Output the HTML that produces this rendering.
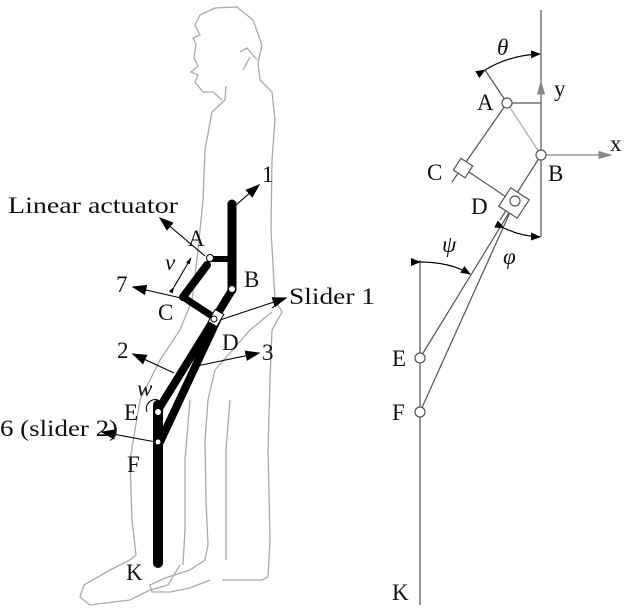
<!DOCTYPE html>
<html><head><style>body{margin:0;background:#fff}svg{display:block}text{font-family:"Liberation Serif",serif;font-size:23px;fill:#111}</style></head>
<body>
<svg width="628" height="612" viewBox="0 0 628 612" xmlns="http://www.w3.org/2000/svg">
<defs>
<marker id="ah" viewBox="0 0 10 10" refX="9" refY="5" markerWidth="10" markerHeight="10" markerUnits="userSpaceOnUse" orient="auto"><path d="M0,1 L10,5 L0,9 z" fill="#000"/></marker>
<marker id="ab" viewBox="0 0 10 10" refX="9" refY="5" markerWidth="15" markerHeight="15" markerUnits="userSpaceOnUse" orient="auto"><path d="M0,1.5 L10,5 L0,8.5 z" fill="#000"/></marker>
<marker id="gh" viewBox="0 0 10 10" refX="9" refY="5" markerWidth="14" markerHeight="14" markerUnits="userSpaceOnUse" orient="auto"><path d="M0,2 L10,5 L0,8 z" fill="#888"/></marker>
<marker id="sh" viewBox="0 0 10 10" refX="9" refY="5" markerWidth="7" markerHeight="7" markerUnits="userSpaceOnUse" orient="auto"><path d="M0,2 L10,5 L0,8 z" fill="#000"/></marker>
</defs>
<g fill="none" stroke="#aaa" stroke-width="1.3">
<path d="M222,100 L213,92 L203,92 L195,82 L198,75 L191,72 L198,66 L194,58 L196,44 L193,38 L200,35 L195,25 L200,15 L215,8 L237,7 L253,20 L262,45 L258,63 L260,80 L272,92 L275,120 L272,160 L271,230 L275,300 L282,312 L272,330 L270,380 L268,450 L270,540 L268,577 L262,580 L222,580"/>
<path d="M226,86 L225,100 L212,112 L205,150 L203,200 L198,250 L192,300 L180,330 L160,360 L140,400 L130,460 L132,520 L136,555 L130,560 L110,570 L84,585 L80,597 L90,605 L130,600 L150,590 L168,585 L180,565"/>
<path d="M257,60 L247,48 L240,52 M250,57 L243,70"/>
<path d="M272,312 L250,330 L215,370 L208,400 L205,440 L206,500 L208,545 L205,560 L190,570 L165,578 L150,585 L152,592 L170,592 L190,588 L210,580"/>
<path d="M230,400 L226,450 L226,520 L226,560"/>
<path d="M190,400 L185,460 L185,530 L183,565"/>
</g>
<g stroke="#000" stroke-linecap="round" fill="none">
<line x1="232" y1="204" x2="232" y2="290" stroke-width="9"/>
<line x1="210" y1="259" x2="232" y2="259" stroke-width="6"/>
<line x1="207" y1="265" x2="183" y2="297" stroke-width="8"/>
<line x1="183" y1="297" x2="215" y2="318" stroke-width="7"/>
<line x1="232" y1="290" x2="215" y2="318" stroke-width="8"/>
<line x1="215" y1="318" x2="158" y2="410" stroke-width="8"/>
<line x1="218" y1="318" x2="160" y2="442" stroke-width="8"/>
<line x1="158" y1="405" x2="158" y2="563" stroke-width="10"/>
<rect x="211" y="311" width="10" height="14" fill="#fff" stroke-width="1" transform="rotate(30 216 318)"/>
</g>
<g fill="#fff" stroke="#000" stroke-width="1">
<circle cx="210" cy="258" r="3.5"/><circle cx="232" cy="289" r="3.5"/><circle cx="214" cy="319" r="3"/><circle cx="158" cy="412" r="3.5"/><circle cx="158" cy="442" r="3"/>
</g>
<g stroke="#000" stroke-width="1.1" fill="none">
<line x1="236" y1="205" x2="259" y2="185" marker-end="url(#ab)"/>
<line x1="205" y1="256" x2="160" y2="218" marker-end="url(#ab)"/>
<line x1="174" y1="287" x2="191" y2="258" marker-end="url(#sh)" marker-start="url(#sh)"/>
<line x1="181" y1="298" x2="133" y2="287" marker-end="url(#ab)"/>
<line x1="220" y1="320" x2="286" y2="298" marker-end="url(#ab)"/>
<line x1="272" y1="308" x2="285" y2="298"/>
<line x1="174" y1="373" x2="133" y2="354" marker-end="url(#ab)"/>
<line x1="197" y1="366" x2="259" y2="353" marker-end="url(#ab)"/>
<line x1="156" y1="442" x2="102" y2="432" marker-end="url(#ab)"/>
<path d="M147,412 A9,9 0 0 1 158,400" />
</g>
<text x="262" y="182">1</text>
<text x="8" y="213" textLength="170" lengthAdjust="spacingAndGlyphs">Linear actuator</text>
<text x="188" y="246">A</text>
<text x="165" y="270" font-style="italic">v</text>
<text x="116" y="292">7</text>
<text x="244" y="287">B</text>
<text x="289" y="304" textLength="86" lengthAdjust="spacingAndGlyphs">Slider 1</text>
<text x="158" y="320">C</text>
<text x="222" y="350">D</text>
<text x="117" y="358">2</text>
<text x="262" y="360">3</text>
<text x="137" y="396" font-style="italic">w</text>
<text x="124" y="420">E</text>
<text x="0" y="436" textLength="118" lengthAdjust="spacingAndGlyphs">6 (slider 2)</text>
<text x="127" y="472">F</text>
<text x="126" y="580">K</text>
<g stroke="#555" stroke-width="1.2" fill="none">
<line x1="541" y1="10" x2="541" y2="237"/>
<line x1="507" y1="103" x2="541" y2="103"/>
<line x1="507" y1="103" x2="541" y2="155" stroke="#aaa"/>
<line x1="507" y1="103" x2="485" y2="70"/>
<path d="M485,70 Q510,55 540,54" stroke="#000" marker-end="url(#ah)" marker-start="url(#ah)"/>
<line x1="507" y1="103" x2="452" y2="182"/>
<line x1="463" y1="168" x2="515" y2="203"/>
<line x1="541" y1="155" x2="500" y2="220"/>
<line x1="515" y1="203" x2="420" y2="358"/>
<line x1="512" y1="208" x2="420" y2="412"/>
<line x1="420" y1="260" x2="420" y2="605"/>
<path d="M504,228 Q520,236 540,237" stroke="#000" marker-end="url(#ah)" marker-start="url(#ah)"/>
<path d="M420,262 Q450,262 470,274" stroke="#000" marker-end="url(#ah)" marker-start="url(#ah)"/>
<rect x="456" y="161" width="14" height="14" fill="#fff" transform="rotate(33 463 168)"/>
<rect x="503" y="192" width="22" height="22" fill="#fff" transform="rotate(33 514 203)"/>
</g>
<line x1="541" y1="103" x2="541" y2="82" stroke="#888" stroke-width="1.5" marker-end="url(#gh)"/>
<line x1="541" y1="155" x2="611" y2="155" stroke="#888" stroke-width="1.2" marker-end="url(#gh)"/>
<g fill="#fff" stroke="#555" stroke-width="1.2">
<circle cx="507" cy="103" r="5"/><circle cx="541" cy="155" r="5"/><circle cx="515" cy="201" r="5"/><circle cx="420" cy="358" r="5"/><circle cx="420" cy="412" r="5"/>
</g>
<text x="497" y="55" font-style="italic" font-size="25">θ</text>
<text x="477" y="110">A</text>
<text x="554" y="96" fill="#888">y</text>
<text x="610" y="151" fill="#888">x</text>
<text x="427" y="180">C</text>
<text x="548" y="181">B</text>
<text x="471" y="214">D</text>
<text x="442" y="252" font-style="italic" font-size="25">ψ</text>
<text x="503" y="264" font-style="italic" font-size="27">φ</text>
<text x="392" y="366">E</text>
<text x="392" y="420">F</text>
<text x="392" y="600">K</text>
</svg>
</body></html>
